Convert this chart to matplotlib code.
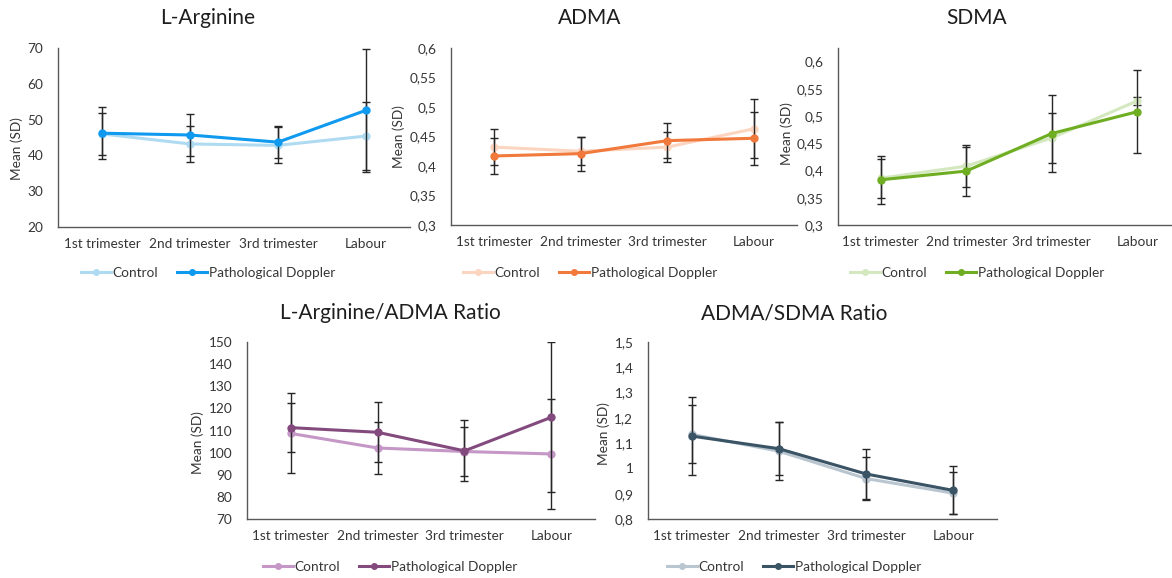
import numpy as np
import matplotlib
matplotlib.use("Agg")
import matplotlib.pyplot as plt
from matplotlib.ticker import FuncFormatter

plt.rcParams['font.family'] = ['Lato', 'DejaVu Sans']

stages = ['1st trimester', '2nd trimester', '3rd trimester', 'Labour']
groups = ['Control', 'Pathological Doppler']

# means and SDs per stage
larg_ctrl = [46.0, 43.2, 42.8, 45.4]
larg_ctrl_sd = [5.8, 5.0, 5.0, 9.6]
larg_path = [46.2, 45.7, 43.7, 52.6]
larg_path_sd = [7.3, 5.9, 4.4, 17.2]

adma_ctrl = [0.432, 0.425, 0.432, 0.463]
adma_ctrl_sd = [0.031, 0.024, 0.025, 0.050]
adma_path = [0.417, 0.421, 0.443, 0.447]
adma_path_sd = [0.030, 0.029, 0.030, 0.045]

sdma_ctrl = [0.386, 0.408, 0.460, 0.528]
sdma_ctrl_sd = [0.036, 0.038, 0.046, 0.007]
sdma_path = [0.383, 0.399, 0.468, 0.508]
sdma_path_sd = [0.044, 0.045, 0.070, 0.076]

ratio1_ctrl = [108.7, 102.1, 100.5, 99.4]
ratio1_ctrl_sd = [18.1, 11.7, 11.0, 25.0]
ratio1_path = [111.3, 109.2, 100.8, 116.0]
ratio1_path_sd = [11.2, 13.5, 13.8, 34.0]

ratio2_ctrl = [1.135, 1.068, 0.960, 0.902]
ratio2_ctrl_sd = [0.115, 0.115, 0.085, 0.083]
ratio2_path = [1.128, 1.078, 0.978, 0.913]
ratio2_path_sd = [0.155, 0.105, 0.100, 0.095]

W, H = 1172, 578
FS = 9.8
TXT = '#363636'


def box(x0, y0, x1, y1):
    return [x0 / W, 1 - y1 / H, (x1 - x0) / W, (y1 - y0) / H]


panels = [
    dict(title='L-Arginine', data=(larg_ctrl, larg_ctrl_sd, larg_path, larg_path_sd),
         colors=('#aedbf2', '#0f9aef'), ylim=(20, 70), yticks=np.arange(20, 71, 10),
         rect=(58, 48, 410, 227), cx=208, ty=18, ly=273, laby=149, labx=23),
    dict(title='ADMA', data=(adma_ctrl, adma_ctrl_sd, adma_path, adma_path_sd),
         colors=('#fcd5c1', '#f0793b'), ylim=(0.3, 0.6), yticks=np.arange(0.3, 0.601, 0.05),
         rect=(451, 48, 797, 225), cx=590, ty=18, ly=273, laby=137, labx=405),
    dict(title='SDMA', data=(sdma_ctrl, sdma_ctrl_sd, sdma_path, sdma_path_sd),
         colors=('#d4e8bf', '#6fae22'), ylim=(0.3, 0.625), yticks=np.arange(0.3, 0.601, 0.05),
         rect=(838, 48, 1180, 225), cx=977, ty=18, ly=273, laby=134, labx=793),
    dict(title='L-Arginine/ADMA Ratio', data=(ratio1_ctrl, ratio1_ctrl_sd, ratio1_path, ratio1_path_sd),
         colors=('#c497c6', '#834a7e'), ylim=(70, 150), yticks=np.arange(70, 151, 10),
         rect=(247, 342, 595, 519), cx=390, ty=313, ly=567, laby=443, labx=204),
    dict(title='ADMA/SDMA Ratio', data=(ratio2_ctrl, ratio2_ctrl_sd, ratio2_path, ratio2_path_sd),
         colors=('#b9c6d0', '#3a5466'), ylim=(0.8, 1.5), yticks=np.arange(0.8, 1.501, 0.1),
         rect=(648, 342, 997, 519), cx=794, ty=313, ly=567, laby=434, labx=610),
]

comma = FuncFormatter(lambda v, p: f"{round(v, 3):g}".replace('.', ','))

fig = plt.figure(figsize=(W / 100, H / 100), dpi=100)
x = np.arange(len(stages))

for p in panels:
    ax = fig.add_axes(box(*p['rect']))
    ctrl, ctrl_sd, path, path_sd = p['data']
    for vals, sd, col, name, z in [(ctrl, ctrl_sd, p['colors'][0], groups[0], 3),
                                   (path, path_sd, p['colors'][1], groups[1], 4)]:
        ax.errorbar(x, vals, yerr=sd, fmt='none', ecolor='#262626', elinewidth=1.0,
                    capsize=2.6, capthick=1.0, zorder=z)
        ax.plot(x, vals, '-o', color=col, lw=2.2, ms=5, label=name, zorder=z + 0.5)

    ax.set_xlim(-0.5, 3.5)
    ax.set_ylim(*p['ylim'])
    ax.set_yticks(p['yticks'])
    ax.yaxis.set_major_formatter(comma)
    ax.set_xticks(x)
    ax.set_xticklabels(stages)
    ax.tick_params(axis='both', length=0, labelsize=FS, colors=TXT)
    ax.tick_params(axis='y', pad=10.5)
    ax.tick_params(axis='x', pad=8)
    for s in ['top', 'right']:
        ax.spines[s].set_visible(False)
    for s in ['left', 'bottom']:
        ax.spines[s].set_color('#595959')
        ax.spines[s].set_linewidth(1.0)
    ax.patch.set_alpha(0)

    x0, y0, x1, y1 = p['rect']
    ax.set_ylabel('Mean (SD)', fontsize=FS, color=TXT)
    ax.yaxis.set_label_coords((p['labx'] - x0) / (x1 - x0), (y1 - p['laby']) / (y1 - y0))

    fig.text(p['cx'] / W, 1 - p['ty'] / H, p['title'], ha='center', va='center',
             fontsize=15, color='#1e1e1e')
    ax.legend(loc='center', bbox_to_anchor=(p['cx'] / W, 1 - p['ly'] / H),
              bbox_transform=fig.transFigure, ncol=2, frameon=False, fontsize=FS,
              handlelength=2.2, handletextpad=0.1, columnspacing=1.4,
              labelcolor=TXT, markerscale=0.8)

fig.savefig('out.png', dpi=100)
